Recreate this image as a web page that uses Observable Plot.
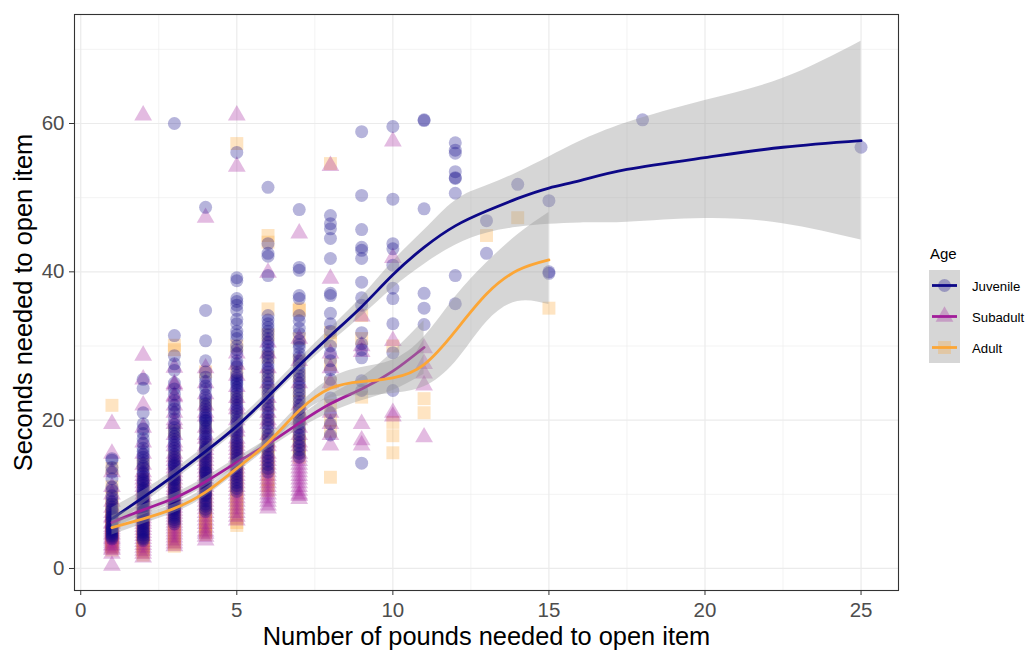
<!DOCTYPE html>
<html>
<head>
<meta charset="utf-8">
<script src="https://cdn.jsdelivr.net/npm/d3@7"></script>
<script src="https://cdn.jsdelivr.net/npm/@observablehq/plot@0.6"></script>
<style>
  html, body { margin: 0; padding: 0; background: #fff; }
  #wrap { position: relative; width: 1036px; height: 650px; font-family: "Liberation Sans", Arial, sans-serif; }
  #legend { position: absolute; left: 920px; top: 236px; }
</style>
</head>
<body>
<div id="wrap"><div id="chart"></div><div id="legend"></div></div>
<script>
// Seconds needed to open an item, by number of pounds (columns of [pounds, seconds...])
const ageGroups = ["Juvenile", "Subadult", "Adult"];
const ageColors = ["#0D0887", "#A21D9A", "#FCA636"];
const ageSymbols = ["circle", "triangle", "square"];

const juvenileSeconds = [
  [1, [14.8, 14.6, 13.6, 12.1, 11.0, 9.8, 9.4, 8.7, 8.0, 7.5, 7.0, 6.6, 6.2, 5.8, 5.5, 5.0, 4.6, 4.2, 6.9, 5.3, 4.4,
       13.0, 10.5, 9.0, 8.3, 7.8, 7.2, 6.4, 5.7, 5.2, 4.8, 4.0]],
  [2, [25.5, 24.3, 21.0, 19.5, 18.2, 16.9, 15.8, 15.0, 14.2, 13.5, 13.0, 12.4, 11.8, 11.2, 10.6, 10.0, 9.5, 9.0, 8.5, 8.0, 7.5, 7.0, 6.5, 6.0, 5.5, 5.0, 4.5, 4.0, 12.0, 10.3, 8.8, 7.2, 5.8, 4.2,
       18.8, 17.5, 16.2, 15.4, 14.6, 13.8, 12.8, 11.5, 10.8, 9.8, 9.2, 8.2, 7.8, 6.8, 6.2, 5.2, 4.8, 3.8]],
  [3, [60.0, 31.4, 28.7, 27.6, 26.7, 25.0, 23.5, 22.0, 21.0, 20.2, 19.4, 18.6, 17.8, 17.0, 16.2, 15.4, 14.6, 13.8, 13.0, 12.3, 11.6, 10.9, 10.2, 9.6, 9.0, 8.4, 7.8, 7.2, 6.6, 6.0, 14.0, 12.0, 10.0, 8.0,
       24.2, 22.6, 21.5, 19.0, 18.2, 17.4, 16.6, 15.8, 15.0, 14.2, 13.4, 12.6, 11.9, 11.2, 10.6, 9.3, 8.7, 8.1, 7.5, 6.9, 6.3]],
  [4, [48.7, 34.8, 30.7, 28.0, 26.5, 25.2, 24.2, 23.4, 22.6, 21.8, 21.0, 20.3, 19.6, 18.9, 18.2, 17.5, 16.8, 16.1, 15.4, 14.7, 14.0, 13.3, 12.6, 11.9, 11.2, 10.5, 9.8, 9.1, 8.4, 7.7, 16.0, 13.0, 10.0, 20.0,
       25.8, 24.6, 23.0, 22.2, 21.4, 20.6, 19.9, 19.2, 18.5, 17.8, 17.1, 16.4, 15.7, 15.0, 14.3, 13.6, 12.9, 12.2, 11.5, 10.8, 10.1, 9.4, 8.7, 8.0]],
  [5, [56.1, 39.2, 38.8, 36.4, 36.0, 34.8, 33.0, 32.0, 31.0, 30.0, 29.0, 28.0, 27.2, 26.4, 25.6, 24.8, 24.0, 23.2, 22.4, 21.6, 20.8, 20.0, 19.2, 18.4, 17.6, 16.8, 16.0, 15.2, 14.4, 13.6, 12.8, 12.0, 11.2, 10.4, 22.0, 18.0, 25.0,
       35.5, 33.6, 31.5, 29.5, 27.6, 26.0, 25.3, 24.4, 23.6, 22.8, 21.2, 20.4, 19.6, 18.8, 17.2, 16.4, 15.6, 14.8, 14.0, 13.2, 12.4, 11.6, 10.8]],
  [6, [51.4, 43.8, 42.5, 42.1, 39.5, 34.1, 33.5, 33.0, 32.0, 31.0, 30.0, 29.0, 28.0, 27.0, 26.0, 25.0, 24.0, 23.0, 22.0, 21.0, 20.0, 19.0, 18.0, 17.0, 16.0, 15.0, 14.0, 13.0, 21.5, 18.5,
       32.5, 31.5, 30.5, 29.5, 28.5, 27.5, 26.5, 25.5, 24.5, 23.5, 22.5, 20.5, 19.5, 17.5, 16.5, 15.5, 14.5, 13.5]],
  [7, [48.4, 40.6, 40.2, 36.8, 36.4, 34.1, 33.4, 32.4, 31.7, 30.7, 29.8, 29.0, 28.0, 27.0, 26.0, 25.0, 24.0, 23.0, 22.0, 21.0, 20.0, 19.0, 18.0, 17.0, 16.0, 15.0,
       30.2, 28.5, 27.5, 26.5, 25.5, 24.5, 23.5, 22.5, 21.5, 20.5, 19.5, 18.5, 17.5, 16.5, 15.5]],
  [8, [47.6, 46.5, 45.8, 44.5, 41.8, 37.1, 36.8, 34.4, 33.0, 32.0, 30.0, 29.0, 28.0, 26.8, 25.5, 23.0, 21.0, 19.5, 18.0]],
  [9, [58.9, 50.3, 45.7, 43.3, 42.9, 41.8, 38.6, 36.5, 35.5, 31.8, 30.3, 29.5, 28.4, 25.3, 24.0, 14.2]],
  [10, [59.6, 49.8, 43.8, 43.1, 40.9, 37.8, 36.4, 33.0, 29.1, 24.0]],
  [11, [60.4, 60.5, 48.5, 37.1, 35.1, 32.9]],
  [12, [57.4, 56.4, 56.0, 53.5, 52.7, 52.6, 50.6, 39.5, 35.7]],
  [13, [46.9, 42.5]],
  [14, [51.8]],
  [15, [49.6, 40.0, 39.8]],
  [18, [60.5]],
  [25, [56.8]]
];

const subadultSeconds = [
  [1, [19.5, 15.5, 13.0, 11.0, 10.0, 9.0, 8.2, 7.5, 6.8, 6.2, 5.6, 5.0, 4.5, 4.0, 3.5, 3.0, 2.5, 2.0, 0.4,
       7.0, 6.0, 5.3, 4.7, 4.2, 3.8, 3.2, 2.7]],
  [2, [61.1, 28.7, 25.5, 22.0, 19.0, 17.0, 15.5, 14.0, 13.0, 12.0, 11.0, 10.0, 9.2, 8.4, 7.6, 6.8, 6.0, 5.2, 4.4, 3.6, 2.8, 2.0, 1.5,
       12.5, 11.5, 10.5, 9.6, 8.8, 8.0, 7.2, 6.4, 5.6, 4.8, 4.0, 3.2, 2.4]],
  [3, [27.1, 24.9, 24.7, 23.3, 23.1, 21.0, 19.5, 18.0, 16.5, 15.0, 14.0, 13.0, 12.0, 11.0, 10.2, 9.4, 8.6, 7.8, 7.0, 6.2, 5.4, 4.6, 3.8, 3.0,
       22.0, 20.0, 17.0, 15.5, 14.5, 13.5, 12.5, 11.5, 10.6, 9.8, 9.0, 8.2, 7.4, 6.6, 5.8, 5.0, 4.2, 3.4]],
  [4, [47.3, 27.0, 25.0, 23.5, 22.0, 20.5, 19.0, 17.5, 16.0, 15.0, 14.0, 13.0, 12.0, 11.0, 10.0, 9.0, 8.0, 7.0, 6.0, 5.0, 4.3, 3.8,
       21.0, 18.0, 16.5, 15.5, 14.5, 13.5, 12.5, 11.5, 10.5, 9.5, 8.5, 7.5, 6.5, 5.5, 4.7]],
  [5, [61.1, 54.2, 29.0, 27.5, 26.0, 24.5, 23.0, 21.5, 20.0, 18.5, 17.0, 16.0, 15.0, 14.0, 13.0, 12.0, 11.0, 10.0, 9.0, 8.0, 7.0, 6.5,
       22.0, 19.0, 17.5, 16.5, 15.5, 14.5, 13.5, 12.5, 11.5, 10.5, 9.5, 8.5, 7.5]],
  [6, [39.9, 30.5, 29.0, 27.0, 25.0, 23.0, 21.0, 19.5, 18.0, 16.5, 15.0, 14.0, 13.0, 12.0, 11.0, 10.0, 9.0, 8.1,
       22.0, 20.0, 17.0, 15.5, 14.5, 13.5, 12.5, 11.5, 10.5, 9.5, 8.5]],
  [7, [45.2, 31.0, 28.0, 25.0, 22.0, 20.0, 18.0, 16.5, 15.0, 14.0, 13.0, 12.0, 11.0, 10.0, 9.4,
       21.0, 19.0, 17.0, 15.5, 14.5, 13.5, 12.5, 11.5, 10.5, 9.8]],
  [8, [54.3, 39.1, 29.0, 27.0, 25.0, 21.0, 19.5, 18.0, 16.6]],
  [9, [34.0, 30.0, 29.2, 19.5, 17.3, 16.6]],
  [10, [57.6, 41.9, 30.7, 21.0, 20.5]],
  [11, [29.7, 27.6, 26.3, 24.7, 17.7]]
];

const adultSeconds = [
  [1, [22.0, 13.5, 11.0, 9.5, 8.5, 7.5, 6.8, 6.0, 5.5, 5.0, 4.5, 4.0, 3.5, 3.0, 2.5,
       8.0, 7.0, 6.4, 5.8, 5.2, 4.8, 4.2, 3.8, 3.2, 2.8]],
  [2, [14.0, 12.0, 10.5, 9.5, 8.5, 7.5, 6.8, 6.0, 5.3, 4.6, 4.0, 3.4, 2.8, 2.2, 1.8,
       9.0, 8.0, 7.0, 6.4, 5.6, 5.0, 4.3, 3.7, 3.1, 2.5]],
  [3, [30.1, 29.5, 18.5, 15.0, 13.0, 11.5, 10.5, 9.5, 8.5, 7.5, 6.8, 6.0, 5.2, 4.4, 3.6, 3.0,
       12.0, 11.0, 10.0, 9.0, 8.0, 7.2, 6.4, 5.6, 4.8, 4.0, 3.3]],
  [4, [26.5, 22.0, 19.0, 16.5, 14.5, 13.0, 11.8, 10.6, 9.6, 8.6, 7.6, 6.8, 6.0, 5.2, 4.6,
       15.5, 13.8, 12.4, 11.2, 10.1, 9.1, 8.1, 7.2, 6.4, 5.6, 4.9]],
  [5, [57.3, 30.0, 26.5, 23.0, 20.5, 18.5, 17.0, 15.5, 14.0, 12.8, 11.6, 10.4, 9.2, 8.0, 6.8, 5.8,
       16.2, 14.8, 13.4, 12.2, 11.0, 9.8, 8.6, 7.4, 6.2]],
  [6, [44.9, 44.0, 35.0, 31.5, 28.5, 26.0, 24.0, 22.0, 20.0, 18.0, 16.5, 15.0, 13.5, 12.0, 10.5,
       17.2, 15.8, 14.2, 12.8, 11.2]],
  [7, [35.0, 34.8, 31.0, 28.0, 26.0, 24.0, 22.5, 21.0, 19.5, 18.0, 16.5, 15.0, 17.2, 15.8, 20.2]],
  [8, [54.6, 31.8, 30.7, 27.5, 25.0, 22.0, 20.0, 18.5, 12.3]],
  [9, [34.1, 31.0, 23.1]],
  [10, [30.0, 19.7, 17.9, 15.6]],
  [11, [22.9, 21.0]],
  [13, [44.9]],
  [14, [47.3]],
  [15, [35.1]]
];

// Smoothed (loess) fits with 95% confidence band
const juvenileFitX = [1, 2, 3, 4, 5, 6, 7, 8, 9, 10, 11, 12, 13, 14, 15, 16, 17.5, 20, 22.5, 25];
const juvenileFit = [6.7, 9.6, 12.6, 15.8, 19.2, 23.2, 27.4, 31.4, 35.3, 39.6, 43.3, 46.2, 48.2, 49.9, 51.3, 52.3, 53.8, 55.4, 56.8, 57.7];
const juvenileLower = [5.2, 8.7, 11.9, 15.1, 18.5, 22.5, 26.6, 30.4, 34.0, 37.8, 41.0, 43.6, 45.2, 46.0, 46.4, 46.6, 46.7, 47.2, 46.5, 44.3];
const juvenileUpper = [8.2, 10.5, 13.3, 16.5, 19.9, 23.9, 28.2, 32.4, 36.6, 41.4, 45.6, 49.6, 51.6, 53.4, 55.5, 57.6, 60.1, 63.1, 66.1, 71.1];

const subadultFitX = [1, 2, 3, 4, 5, 6, 7, 8, 9, 10, 11];
const subadultFit = [6.2, 7.9, 9.5, 11.7, 14.3, 16.8, 19.6, 22.2, 24.2, 26.6, 29.8];
const subadultLower = [5.3, 7.2, 8.9, 11.1, 13.7, 16.1, 18.8, 21.0, 22.6, 24.0, 26.2];
const subadultUpper = [7.1, 8.6, 10.1, 12.3, 14.9, 17.5, 20.4, 23.4, 25.8, 29.2, 33.4];

const adultFitX = [1, 2, 3, 4, 5, 6, 7, 8, 9, 10, 11, 12, 13, 14, 15];
const adultFit = [5.5, 6.7, 8.1, 10.3, 13.5, 17.0, 21.3, 24.3, 25.2, 25.7, 27.5, 32.0, 37.0, 40.2, 41.6];
const adultLower = [4.5, 6.0, 7.5, 9.7, 12.9, 16.3, 20.5, 23.0, 23.3, 23.6, 24.5, 27.8, 33.2, 36.0, 35.6];
const adultUpper = [6.5, 7.4, 8.7, 10.9, 14.1, 17.7, 22.1, 25.6, 27.1, 28.1, 31.2, 36.6, 41.2, 45.0, 48.0];

const xTicks = [0, 5, 10, 15, 20, 25];
const xMinor = [2.5, 7.5, 12.5, 17.5, 22.5];
const yTicks = [0, 20, 40, 60];
const yMinor = [10, 30, 50, 70];

const xTitle = "Number of pounds needed to open item";
const yTitle = "Seconds needed to open item";
const legendTitle = "Age";

const pointRadius = [6.5, 6.6, 7.3];

// Build tidy tables; points are interleaved across age groups so no group is
// always painted on top of the others.
const pointSets = [juvenileSeconds, subadultSeconds, adultSeconds];
const perGroup = pointSets.map((cols, i) =>
  cols.flatMap(([pounds, secs]) => secs.map(s => ({
    pounds, seconds: s, age: ageGroups[i],
    color: ageColors[i], symbol: ageSymbols[i], r: pointRadius[i]
  })))
);
const points = [];
for (let k = 0; k < d3.max(perGroup, g => g.length); ++k) {
  for (const g of perGroup) if (k < g.length) points.push(g[k]);
}

const fits = [
  [juvenileFitX, juvenileFit, juvenileLower, juvenileUpper],
  [subadultFitX, subadultFit, subadultLower, subadultUpper],
  [adultFitX, adultFit, adultLower, adultUpper]
].map(([xs, f, lo, hi], i) => xs.map((x, j) => ({pounds: x, fit: f[j], lo: lo[j], hi: hi[j], age: ageGroups[i]})));

const gridColor = "#ebebeb";
const font = "'Liberation Sans', Arial, sans-serif";

const marks = [
  Plot.ruleX(xMinor, {stroke: gridColor, strokeWidth: 0.6}),
  Plot.ruleY(yMinor, {stroke: gridColor, strokeWidth: 0.6}),
  Plot.ruleX(xTicks, {stroke: gridColor, strokeWidth: 1.2}),
  Plot.ruleY(yTicks, {stroke: gridColor, strokeWidth: 1.2}),
  Plot.dot(points, {
    x: "pounds", y: "seconds", symbol: "symbol", r: "r",
    fill: "color", fillOpacity: 0.3, stroke: "none"
  })
];
fits.forEach((rows, i) => {
  marks.push(Plot.areaY(rows, {x: "pounds", y1: "lo", y2: "hi", curve: "natural", fill: "#999999", fillOpacity: 0.4}));
  marks.push(Plot.line(rows, {x: "pounds", y: "fit", curve: "natural", stroke: ageColors[i], strokeWidth: 2.8}));
});
marks.push(
  Plot.frame({stroke: "#333333", strokeWidth: 1.1}),
  // tick marks only; labels drawn as text below
  Plot.axisX(xTicks, {tickSize: 5, stroke: "#333333", tickFormat: () => "", label: null}),
  Plot.axisY(yTicks, {tickSize: 5, stroke: "#333333", tickFormat: () => "", label: null}),
  Plot.text(xTicks, {x: d => d, frameAnchor: "bottom", lineAnchor: "middle", dy: 20, fontSize: 20.5, fill: "#4d4d4d", text: d => String(d)}),
  Plot.text(yTicks, {y: d => d, frameAnchor: "left", textAnchor: "end", lineAnchor: "middle", dx: -10, fontSize: 20.5, fill: "#4d4d4d", text: d => String(d)}),
  Plot.text([xTitle], {frameAnchor: "bottom", lineAnchor: "middle", textAnchor: "middle", dy: 46, fontSize: 25.4, fill: "#000", text: d => d}),
  Plot.text([yTitle], {frameAnchor: "left", lineAnchor: "middle", textAnchor: "middle", dx: -51, rotate: -90, fontSize: 25.4, fill: "#000", text: d => d})
);

const chart = Plot.plot({
  width: 1036,
  height: 650,
  marginLeft: 74,
  marginRight: 138,
  marginTop: 14,
  marginBottom: 60,
  x: {domain: [-0.2, 26.2], axis: null},
  y: {domain: [-2.97, 74.7], axis: null},
  r: {type: "identity"},
  symbol: {type: "identity"},
  color: {type: "identity"},
  style: {fontFamily: font, background: "#fff", overflow: "visible"},
  marks
});
document.getElementById("chart").append(chart);

// Legend: key background, point symbol and line per age group
const key = 31;
const lg = d3.create("svg").attr("width", 116).attr("height", 140).style("font-family", font);
lg.append("text").attr("x", 10).attr("y", 23).attr("font-size", 15).attr("fill", "#000").text(legendTitle);
ageGroups.forEach((g, i) => {
  const y0 = 34 + i * key;
  const row = lg.append("g").attr("transform", `translate(9,${y0})`);
  row.append("rect").attr("width", key).attr("height", key).attr("fill", "#999999").attr("fill-opacity", 0.4);
  const sym = [d3.symbolCircle, d3.symbolTriangle, d3.symbolSquare][i];
  row.append("path")
    .attr("d", d3.symbol(sym, Math.PI * pointRadius[i] * pointRadius[i])())
    .attr("transform", `translate(${key / 2},${key / 2})`)
    .attr("fill", ageColors[i]).attr("fill-opacity", 0.3);
  row.append("line").attr("x1", 3).attr("x2", key - 3).attr("y1", key / 2).attr("y2", key / 2)
    .attr("stroke", ageColors[i]).attr("stroke-width", 2.8);
  row.append("text").attr("x", key + 12).attr("y", key / 2 + 5).attr("font-size", 13.2).attr("fill", "#000").text(g);
});
document.getElementById("legend").append(lg.node());
</script>
</body>
</html>
